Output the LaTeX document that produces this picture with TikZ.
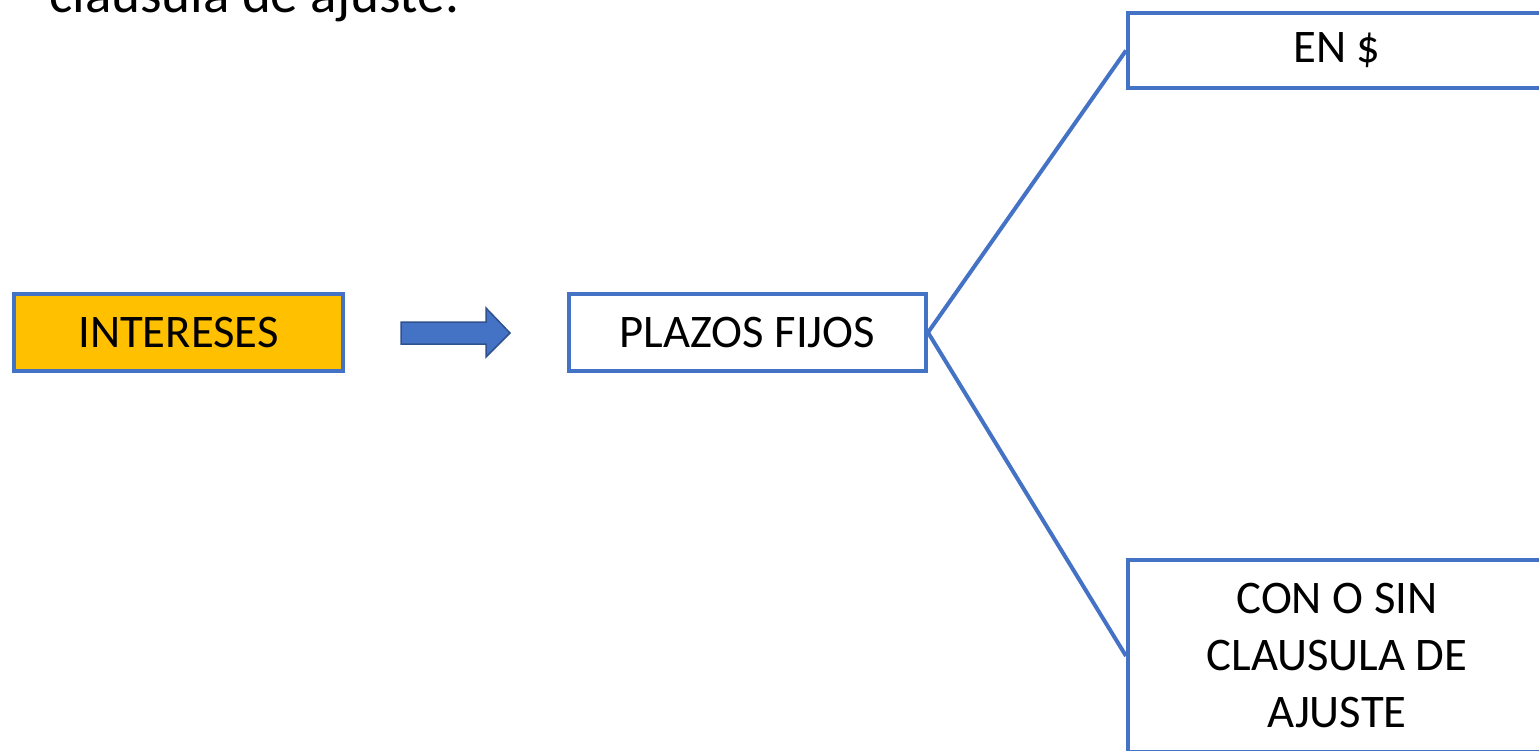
\documentclass[tikz,border=0pt]{standalone}
\usepackage{fontspec}
\setmainfont{Carlito}
\usepackage{xcolor}
\usepackage{tikz}
\usetikzlibrary{positioning}
\definecolor{azul}{HTML}{4472C4}
\definecolor{azuloscuro}{HTML}{2F528F}
\definecolor{naranja}{HTML}{FFC000}

\begin{document}
\begin{tikzpicture}[x=1pt,y=-1pt,
caja/.style={rectangle,draw=azul,line width=4pt,fill=white,inner sep=0pt,
font=\fontsize{46.7}{57}\selectfont,text=black},
conector/.style={-,line width=4pt,draw=azul},
flecha/.style={fill=azul,draw=azuloscuro,line width=1.5pt,line join=miter}]
\useasboundingbox (0,0) rectangle (1539,751);
\clip (0,0) rectangle (1539,751);

% titulo cortado arriba
\node (titulo) [anchor=base west,inner sep=0pt,font=\fontsize{55}{66}\selectfont]
at (49,13) {cláusula de ajuste.};

\node (intereses) [caja,fill=naranja,minimum width=329pt,minimum height=77pt]
at (178.5,332.5) {INTERESES};
\node (plazos) [caja,minimum width=357pt,minimum height=76pt,right=222pt of intereses]
{PLAZOS FIJOS};
\node (enpesos) [caja,minimum width=418pt,minimum height=75pt]
at (1337,50.5) {EN \$};
\node (clausula) [caja,align=center,minimum width=418pt,minimum height=192pt]
at (1337,656) {CON O SIN\\CLAUSULA DE\\AJUSTE};

\draw[flecha] (401,322)--(486,322)--(486,308)--(510,333)--(486,357)--(486,344)--(401,344)--cycle;

\draw[conector] (plazos.east)--(enpesos.west);
\draw[conector] (plazos.east)--(clausula.west);

\end{tikzpicture}
\end{document}
